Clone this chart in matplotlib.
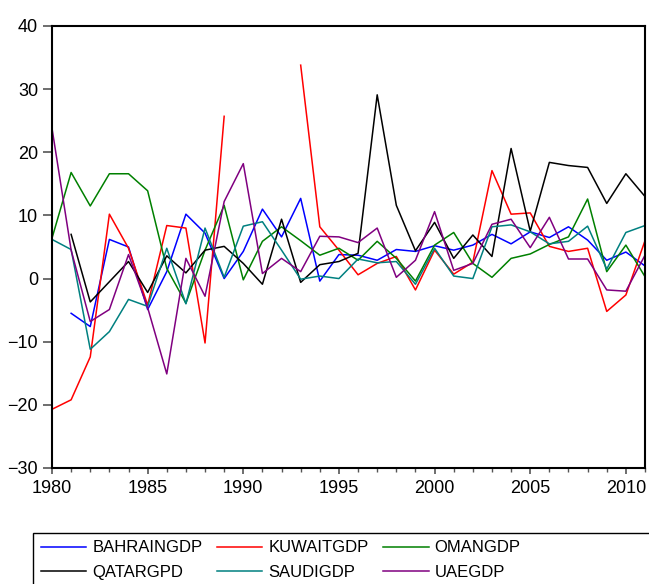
import numpy as np
import matplotlib.pyplot as plt
from matplotlib.patches import Rectangle
from matplotlib.ticker import MultipleLocator

plt.rcParams['font.family'] = ['Liberation Sans', 'DejaVu Sans']

years = np.arange(1980, 2012)
nan = np.nan

# annual GDP growth (%), 1980-2011
bahrain = [nan, -5.5, -7.6, 6.2, 5.0, -4.9, 1.1, 10.2, 7.2, 0.0, 4.3, 11.0, 6.6, 12.7, -0.4, 3.8,
           3.7, 2.9, 4.6, 4.3, 5.2, 4.5, 5.3, 7.0, 5.5, 7.4, 6.5, 8.2, 6.1, 2.9, 4.2, 2.0]
kuwait = [-20.7, -19.2, -12.4, 10.2, 4.8, -4.2, 8.4, 8.0, -10.2, 25.7, nan, nan, nan, 33.8, 8.2, 4.5,
          0.6, 2.4, 3.5, -1.8, 4.5, 0.7, 2.6, 17.1, 10.2, 10.4, 5.1, 4.3, 4.8, -5.2, -2.6, 6.0]
oman = [6.4, 16.8, 11.5, 16.6, 16.6, 13.9, 1.6, -3.9, 4.5, 11.6, -0.2, 5.9, 8.2, 6.0, 3.7, 4.8,
        2.9, 5.9, 3.2, -0.4, 5.3, 7.3, 2.4, 0.2, 3.2, 3.9, 5.4, 6.6, 12.6, 1.1, 5.3, 0.3]
qatar = [nan, 7.0, -3.7, -0.5, 2.7, -2.2, 3.6, 0.9, 4.5, 5.1, 2.4, -0.9, 9.4, -0.6, 2.2, 2.7,
         4.0, 29.1, 11.6, 4.4, 8.9, 3.2, 6.9, 3.5, 20.6, 7.5, 18.4, 17.9, 17.6, 11.9, 16.6, 13.0]
saudi = [6.2, 4.6, -11.2, -8.4, -3.3, -4.4, 4.8, -4.0, 8.0, 0.2, 8.3, 9.0, 4.5, -0.1, 0.4, 0.0,
         3.1, 2.5, 2.7, -0.9, 4.8, 0.4, 0.0, 8.2, 8.5, 7.4, 5.5, 5.9, 8.3, 1.5, 7.3, 8.4]
uae = [23.8, 4.5, -6.8, -4.9, 3.8, -4.6, -15.1, 3.2, -2.8, 12.2, 18.2, 0.8, 3.2, 1.1, 6.7, 6.6,
       5.7, 8.0, 0.2, 2.9, 10.6, 1.3, 2.4, 8.6, 9.4, 4.9, 9.7, 3.1, 3.1, -1.8, -2.0, 3.7]

names = ['BAHRAINGDP', 'KUWAITGDP', 'OMANGDP', 'QATARGPD', 'SAUDIGDP', 'UAEGDP']
series = [bahrain, kuwait, oman, qatar, saudi, uae]
colors = ['#0000ff', '#ff0000', '#008000', '#000000', '#008080', '#800080']

fig = plt.figure(figsize=(6.49, 5.84), dpi=100)
ax = fig.add_axes([52 / 649, 1 - 468 / 584, 593 / 649, 442 / 584])

lines = {}
for name, vals, c in zip(names, series, colors):
    lines[name], = ax.plot(years, vals, color=c, lw=1.1, label=name)

ax.set_xlim(1980, 2011)
ax.set_ylim(-30, 40)
ax.set_yticks(np.arange(-30, 41, 10))
ax.set_xticks(np.arange(1980, 2011, 5))
ax.xaxis.set_minor_locator(MultipleLocator(1))
ax.tick_params(axis='y', which='major', direction='out', length=6.5, width=1.2,
               color='#555555', labelsize=13, pad=3.5)
ax.tick_params(axis='x', which='major', direction='out', length=4.5, width=1.2,
               color='#555555', labelsize=13, pad=4)
ax.tick_params(axis='x', which='minor', direction='out', length=3, width=1, color='#555555')
for s in ax.spines.values():
    s.set_linewidth(1.5)

# legend: 3 columns, filled row by row
order = ['BAHRAINGDP', 'QATARGPD', 'KUWAITGDP', 'SAUDIGDP', 'OMANGDP', 'UAEGDP']
leg = fig.legend([lines[n] for n in order], order, loc='upper left', ncol=3,
                 bbox_to_anchor=(33 / 649, 1 - 533 / 584), frameon=False, fontsize=12,
                 handlelength=2.75, handletextpad=0.36, columnspacing=0.85,
                 labelspacing=0.55, borderpad=0.45, borderaxespad=0)
fig.patches.append(Rectangle((33 / 649, -0.05), 0.99, 1 - 533 / 584 + 0.05,
                             transform=fig.transFigure, fill=False, ec='black', lw=1))

fig.savefig('out.png', dpi=100)
